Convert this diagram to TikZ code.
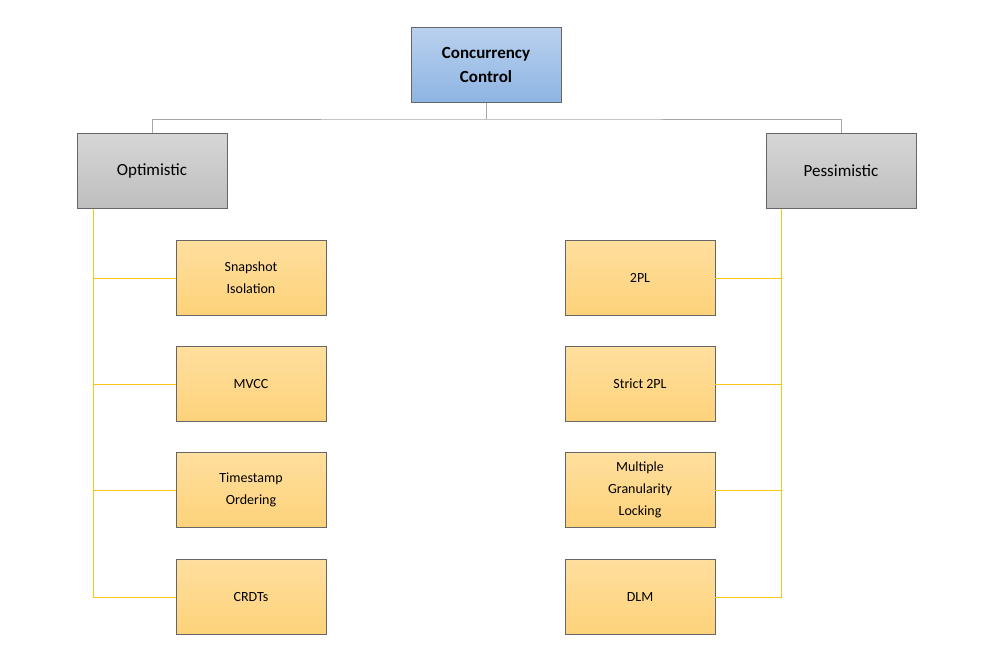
\documentclass[tikz,border=0pt]{standalone}
\usepackage{fontspec}
\setmainfont{Carlito}
\definecolor{rootTop}{HTML}{B9D1EE}
\definecolor{rootBot}{HTML}{8EB4E3}
\definecolor{grayTop}{HTML}{D6D6D6}
\definecolor{grayBot}{HTML}{BEBEBE}
\definecolor{leafTop}{HTML}{FFDF9E}
\definecolor{leafBot}{HTML}{FDD27A}
\definecolor{spine}{HTML}{F5C518}
\definecolor{link}{HTML}{A6A6A6}
\tikzset{
  box/.style={draw=black!60, minimum width=150pt, minimum height=75pt, align=center, inner sep=2pt},
  root/.style={box, top color=rootTop, bottom color=rootBot, font=\fontsize{17}{24}\selectfont\bfseries},
  branch/.style={box, top color=grayTop, bottom color=grayBot, font=\fontsize{17}{24}\selectfont},
  leaf/.style={box, top color=leafTop, bottom color=leafBot, font=\fontsize{14}{22}\selectfont},
  graylink/.style={draw=link, line width=0.8pt},
  yellink/.style={draw=spine, line width=0.8pt}
}
\begin{document}
\begin{tikzpicture}[x=1pt, y=-1pt]
\useasboundingbox (0,0) rectangle (987,659);

\node[root] (cc) at (486,65) {Concurrency\\Control};
\node[branch] (opt) at (152,171) {Optimistic};
\node[branch] (pes) at (841,171) {Pessimistic};

% optimistic leaves
\node[leaf] (snap) at (251,278) {Snapshot\\Isolation};
\node[leaf] (mvcc) at (251,384) {MVCC};
\node[leaf] (ts)   at (251,490) {Timestamp\\Ordering};
\node[leaf] (crdt) at (251,597) {CRDTs};

% pessimistic leaves
\node[leaf] (tpl)  at (640,278) {2PL};
\node[leaf] (stpl) at (640,384) {Strict 2PL};
\node[leaf] (mgl)  at (640,490) {Multiple\\Granularity\\Locking};
\node[leaf] (dlm)  at (640,597) {DLM};

\coordinate (mid) at (486,119);
\draw[graylink] (cc.south) -- (mid);
\draw[graylink] (opt.north) |- (mid) -| (pes.north);

\coordinate (optS) at ([xshift=-59pt]opt.south);
\coordinate (pesS) at ([xshift=-60pt]pes.south);
\foreach \n in {snap,mvcc,ts,crdt}
  \draw[yellink] (optS) |- (\n.west);
\foreach \n in {tpl,stpl,mgl,dlm}
  \draw[yellink] (pesS) |- (\n.east);
\end{tikzpicture}
\end{document}
